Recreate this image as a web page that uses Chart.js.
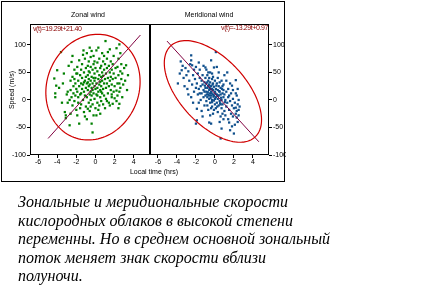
<!DOCTYPE html>
<html>
<head>
<meta charset="utf-8">
<script src="https://cdn.jsdelivr.net/npm/chart.js@4.4.1/dist/chart.umd.min.js"></script>
<style>
  body { margin: 0; background: #fff; width: 423px; height: 304px; position: relative; overflow: hidden;
         font-family: 'Liberation Sans', Arial, sans-serif; }
  .frame { position: absolute; left: 1px; top: 1px; width: 282px; height: 179px; border: 1px solid #000; }
  canvas { position: absolute; top: 0; }
  .lbl { position: absolute; font-size: 7px; line-height: 8px; white-space: nowrap; color: #000; }
  .eq { color: #8b0000; letter-spacing: -0.4px; }
  .caption { position: absolute; left: 18px; top: 193px; font: italic 16px 'Liberation Serif', serif;
             line-height: 18.6px; color: #000; }
</style>
</head>
<body>
<div class="frame"></div>
<canvas id="zonal" width="150" height="182" style="left:0"></canvas>
<canvas id="merid" width="136" height="182" style="left:150px"></canvas>
<div class="lbl" style="left:88px;top:11px;transform:translateX(-50%)">Zonal wind</div>
<div class="lbl" style="left:209px;top:11px;transform:translateX(-50%)">Meridional wind</div>
<div class="lbl" style="left:154px;top:168px;transform:translateX(-50%)">Local time (hrs)</div>
<div class="lbl" style="left:12px;top:90px;transform:translate(-50%,-50%) rotate(-90deg)">Speed (m/s)</div>
<div class="lbl eq" style="left:33px;top:25px">v(t)=19.29t+21.40</div>
<div class="lbl eq" style="right:155px;top:24px">v(t)=-13.29t+0.97</div>
<div class="caption">Зональные и меридиональные скорости<br>кислородных облаков в высокой степени<br>переменны. Но в среднем основной зональный<br>поток меняет знак скорости вблизи<br>полуночи.</div>
<script>
// axis setup
const timeTicks = [-6, -4, -2, 0, 2, 4];
const speedTicks = [-100, -50, 0, 50, 100];
const timeRange = [-6.84, 5.7];
const speedRange = [-100, 138];

// zonal wind measurements [local time, speed]
const zonalPoints = [
  [-4.3,39],[-4.1,26],[-4.2,12],[-4.2,5],[-4.0,54],[-3.8,22],[-3.6,87],[-3.5,-5],[-3.4,30],[-3.3,48],[-3.2,-22],[-3.1,-28],[-3.1,-33],[-3.0,10],
  [-2.9,15],[-2.8,62],[-2.7,-46],[-2.7,0],[-2.6,35],[-2.6,18],[-2.5,69],[-2.5,5],[-2.4,42],[-2.4,-10],[-2.3,25],[-2.3,12],[-2.2,55],[-2.2,-2],
  [-2.1,30],[-2.1,8],[-2.0,20],[-2.0,48],[-2.0,-18],[-2.9,-5],[-2.6,-25],[-2.4,80],[-2.2,38],
  [-1.9,-28],[-1.9,15],[-1.9,60],[-1.8,35],[-1.8,5],[-1.7,-43],[-1.7,25],[-1.7,72],[-1.6,45],[-1.6,10],[-1.5,-8],[-1.5,30],[-1.5,55],[-1.4,20],
  [-1.4,40],[-1.4,65],[-1.3,0],[-1.3,28],[-1.25,90],[-1.2,-22],[-1.2,15],[-1.2,50],[-1.1,35],[-1.1,8],[-1.1,75],[-1.0,22],[-1.0,42],[-1.0,-12],
  [-1.0,58],[-1.9,48],[-1.6,-15],[-1.3,82],[-1.8,-5],[-1.5,12],[-1.2,32],[-1.1,-30],
  [-0.9,85],[-0.9,30],[-0.9,5],[-0.8,-16],[-0.8,45],[-0.8,18],[-0.8,62],[-0.7,25],[-0.7,-5],[-0.7,38],[-0.7,70],[-0.6,10],[-0.6,50],[-0.6,28],
  [-0.6,-20],[-0.5,15],[-0.5,35],[-0.5,60],[-0.5,0],[-0.5,78],[-0.4,89],[-0.4,-43],[-0.4,22],[-0.4,42],[-0.4,8],[-0.3,-59],[-0.3,30],[-0.3,55],
  [-0.3,-8],[-0.3,18],[-0.2,40],[-0.2,12],[-0.2,65],[-0.2,-28],[-0.1,25],[-0.1,48],[-0.1,2],[-0.1,35],[0.0,-15],[0.0,58],[0.0,20],[-0.9,-35],
  [-0.6,95],[-0.2,80],[-0.7,52],[-0.5,-12],[-0.8,32],[-0.1,70],
  [0.0,40],[0.1,90],[0.1,-28],[0.1,10],[0.1,30],[0.2,52],[0.2,-5],[0.2,22],[0.2,68],[0.3,38],[0.3,15],[0.3,-18],[0.4,-10],[0.4,45],[0.4,28],
  [0.4,75],[0.5,5],[0.5,58],[0.5,33],[0.5,18],[0.6,-2],[0.6,42],[0.6,62],[0.6,25],[0.7,12],[0.7,50],[0.7,85],[0.7,35],[0.8,-8],[0.8,20],[0.8,44],
  [0.8,70],[0.9,30],[0.9,8],[0.9,55],[1.0,38],[1.0,-15],[1.0,65],[1.05,107],[0.3,95],[0.5,-25],[0.9,80],[0.2,8],[0.6,15],
  [1.1,22],[1.1,48],[1.1,2],[1.2,30],[1.2,75],[1.2,58],[1.3,87],[1.3,12],[1.3,40],[1.4,-5],[1.4,25],[1.4,62],[1.5,35],[1.5,50],[1.5,-10],[1.6,18],
  [1.6,70],[1.6,42],[1.7,5],[1.7,28],[1.7,55],[1.8,-7],[1.8,38],[1.8,65],[1.9,15],[1.9,48],[1.9,80],[2.0,25],[2.0,3],[1.2,-2],[1.5,92],[1.7,10],
  [2.1,40],[2.1,58],[2.2,94],[2.2,17],[2.2,-2],[2.3,60],[2.3,30],[2.3,8],[2.4,45],[2.4,75],[2.5,101],[2.5,30],[2.5,-7],[2.5,15],[2.6,52],[2.6,22],
  [2.7,65],[2.7,38],[2.8,5],[2.8,48],[2.9,28],[3.0,58],[3.1,35],[3.2,63],[3.3,18],[3.4,45],[2.4,-15],[2.6,85]
];

// meridional wind measurements [local time, speed]
const meridPoints = [
  [-3.9,30],[-3.7,48],[-3.5,54],[-3.4,62],[-3.3,40],[-3.2,25],[-3.1,58],[-3.0,45],[-3.6,70],
  [-2.9,20],[-2.8,52],[-2.7,35],[-2.6,65],[-2.5,81],[-2.5,72],[-2.5,5],[-2.4,63],[-2.4,28],[-2.3,45],[-2.2,15],[-2.2,55],[-2.1,38],[-2.0,-43],
  [-2.0,22],[-2.0,60],[-2.8,10],[-2.3,-5],
  [-1.9,-37],[-1.9,-16],[-1.9,30],[-1.8,48],[-1.8,10],[-1.7,20],[-1.7,-5],[-1.6,40],[-1.6,55],[-1.5,25],[-1.5,0],[-1.4,35],[-1.4,12],[-1.4,-20],
  [-1.3,45],[-1.3,28],[-1.2,5],[-1.2,18],[-1.2,62],[-1.1,-10],[-1.1,32],[-1.0,59],[-1.0,22],[-1.0,8],[-1.0,40],[-1.7,68],[-1.3,-30],[-1.6,12],[-1.1,15],
  [-0.9,30],[-0.9,-2],[-0.9,15],[-0.8,-10],[-0.8,45],[-0.8,22],[-0.8,5],[-0.7,35],[-0.7,10],[-0.7,-18],[-0.7,25],[-0.6,-41],[-0.6,18],[-0.6,40],
  [-0.6,2],[-0.6,28],[-0.5,12],[-0.5,-5],[-0.5,32],[-0.5,20],[-0.5,50],[-0.4,72],[-0.4,-43],[-0.4,8],[-0.4,25],[-0.4,15],[-0.3,-12],[-0.3,38],
  [-0.3,20],[-0.3,0],[-0.2,30],[-0.2,10],[-0.2,-25],[-0.2,18],[-0.1,59],[-0.1,-1],[-0.1,24],[-0.1,8],[0.0,15],[0.0,35],[0.0,-8],[-0.9,55],
  [-0.7,50],[-0.3,48],[-0.5,-28],[-0.8,32],[-0.2,42],[-0.6,8],[-0.4,-15],[-0.1,-18],
  [-0.75,14],[-0.65,26],[-0.45,4],[-0.35,12],[-0.25,28],[-0.15,6],[0.05,12],[0.15,26],[0.25,-12],[0.35,8],[0.45,16],[0.55,-6],[-0.55,22],
  [-0.85,10],[0.65,4],[0.75,20],[-1.05,26],[1.05,-4],[0.0,2],[-0.3,-4],
  [0.1,87],[0.1,20],[0.1,5],[0.1,-15],[0.2,30],[0.2,10],[0.2,-5],[0.3,18],[0.3,40],[0.3,-22],[0.4,50],[0.4,8],[0.4,25],[0.4,-10],[0.5,-2],
  [0.5,15],[0.5,32],[0.6,-70],[0.6,-30],[0.6,10],[0.6,22],[0.7,-52],[0.7,0],[0.7,35],[0.7,-15],[0.8,12],[0.8,25],[0.8,-8],[0.9,-35],[0.9,5],
  [0.9,18],[1.0,45],[1.0,-20],[1.0,10],[0.3,2],[0.5,-40],[0.8,-25],[0.2,60],[0.6,-8],[0.9,28],
  [1.1,0],[1.1,-28],[1.2,15],[1.2,-12],[1.3,50],[1.3,-5],[1.4,20],[1.4,-35],[1.5,-41],[1.5,8],[1.5,-18],[1.6,30],[1.6,-2],[1.7,-25],[1.7,12],
  [1.8,26],[1.8,-10],[1.8,-48],[1.9,2],[1.9,-30],[2.0,-61],[2.0,-15],[1.2,35],[1.4,5],[1.6,-55],[1.9,18],
  [2.1,-5],[2.2,36],[2.2,12],[2.2,-14],[2.2,-25],[2.3,8],[2.3,-32],[2.3,-20],[2.4,-8],[2.4,-40],[2.5,-18],[2.5,0],[2.5,-28],[2.6,-12],[2.4,20],[2.1,-45]
];

// fitted lines (end points) and 1-sigma ellipses: center, two conjugate half axes
const zonalFit = [[-4.95, -70], [4.7, 118]];
const meridFit = [[-5.05, 107], [4.63, -76]];
const zonalEllipseCenter = [-0.26, 23.3];
const zonalEllipseAxes = [[4.9, 0], [0.5, 96]];
const meridEllipseCenter = [-0.21, 15.5];
const meridEllipseAxes = [[4.45, -82.7], [2.54, 41.1]];

const toXY = arr => arr.map(p => ({ x: p[0], y: p[1] }));

const ellipsePlugin = {
  id: 'ellipse',
  afterDatasetsDraw(chart, args, opts) {
    const { ctx, scales: { x, y } } = chart;
    const c = opts.center, a = opts.axes[0], b = opts.axes[1];
    ctx.save();
    ctx.strokeStyle = '#d00000';
    ctx.lineWidth = 1.2;
    ctx.beginPath();
    for (let i = 0; i <= 120; i++) {
      const ang = (i / 120) * Math.PI * 2;
      const px = x.getPixelForValue(c[0] + a[0] * Math.cos(ang) + b[0] * Math.sin(ang));
      const py = y.getPixelForValue(c[1] + a[1] * Math.cos(ang) + b[1] * Math.sin(ang));
      if (i === 0) ctx.moveTo(px, py);
      else ctx.lineTo(px, py);
    }
    ctx.stroke();
    ctx.restore();
  }
};

const boxPlugin = {
  id: 'box',
  afterDraw(chart, args, opts) {
    const { ctx, chartArea: a } = chart;
    ctx.save();
    ctx.strokeStyle = '#000';
    ctx.lineWidth = 1;
    ctx.strokeRect(a.left + 0.5, a.top + 0.5, a.right - a.left - 1, a.bottom - a.top - 1);
    ctx.fillStyle = '#000';
    if (opts.thick === 'right') ctx.fillRect(a.right - 1, a.top, 1, a.bottom - a.top);
    ctx.restore();
  }
};

function makePanel(id, points, fit, center, axes, color, side) {
  const tickFont = { family: "'Liberation Sans', Arial, sans-serif", size: 7 };
  new Chart(document.getElementById(id), {
    type: 'scatter',
    data: {
      datasets: [
        {
          type: 'line',
          data: toXY(fit),
          borderColor: '#800040',
          borderWidth: 1,
          pointRadius: 0,
          pointHoverRadius: 0,
          fill: false,
        },
        {
          data: toXY(points),
          pointStyle: 'rect',
          pointRadius: 1.6,
          pointHoverRadius: 0,
          borderWidth: 0,
          backgroundColor: color,
        },
      ],
    },
    options: {
      responsive: false,
      animation: false,
      events: [],
      layout: { autoPadding: false, padding: { top: 24, left: 0, right: 0, bottom: 0 } },
      plugins: {
        legend: { display: false },
        tooltip: { enabled: false },
        ellipse: { center: center, axes: axes },
        box: { thick: side === 'left' ? 'right' : null },
      },
      scales: {
        x: {
          type: 'linear',
          min: timeRange[0],
          max: timeRange[1],
          afterBuildTicks: s => { s.ticks = timeTicks.map(v => ({ value: v })); },
          afterFit: s => { s.height = 27; s.paddingLeft = 0; s.paddingRight = 0; },
          grid: { drawOnChartArea: false, tickLength: 3, color: '#000' },
          border: { display: false },
          ticks: { font: tickFont, color: '#000', padding: 0, maxRotation: 0, autoSkip: false },
        },
        y: {
          type: 'linear',
          position: side,
          min: speedRange[0],
          max: speedRange[1],
          afterBuildTicks: s => { s.ticks = speedTicks.map(v => ({ value: v })); },
          afterFit: s => { s.width = side === 'left' ? 30 : 17; s.paddingTop = 0; s.paddingBottom = 0; },
          grid: { drawOnChartArea: false, tickLength: 3, color: '#000' },
          border: { display: false },
          ticks: { font: tickFont, color: '#000', padding: 1, autoSkip: false },
        },
      },
    },
    plugins: [ellipsePlugin, boxPlugin],
  });
}

makePanel('zonal', zonalPoints, zonalFit, zonalEllipseCenter, zonalEllipseAxes, '#008000', 'left');
makePanel('merid', meridPoints, meridFit, meridEllipseCenter, meridEllipseAxes, '#0f4f8c', 'right');
</script>
</body>
</html>
